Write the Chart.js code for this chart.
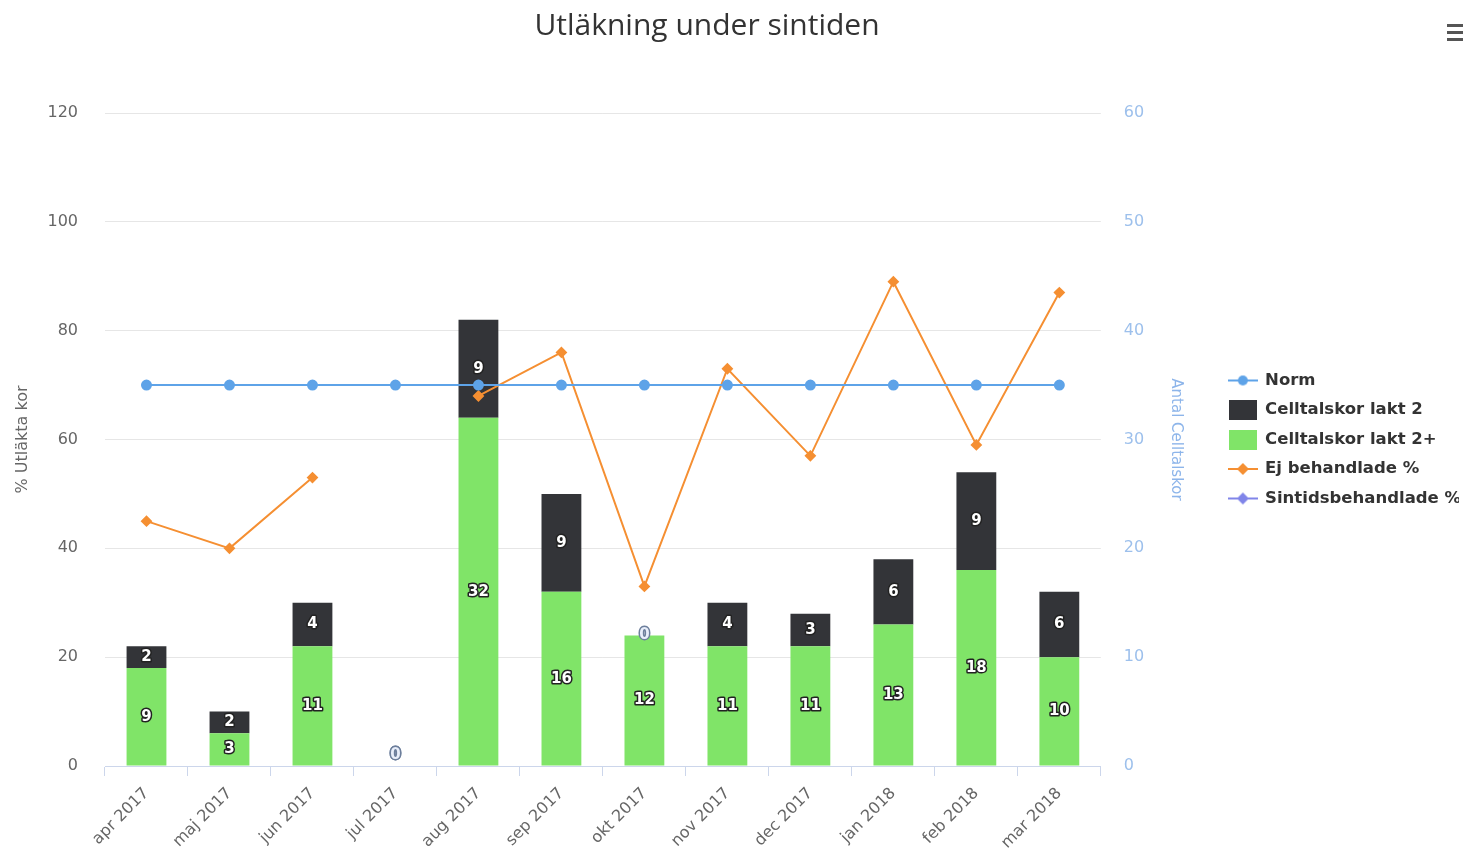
<!DOCTYPE html>
<html lang="sv">
<head>
<meta charset="utf-8">
<title>Utläkning under sintiden</title>
<script src="https://cdn.jsdelivr.net/npm/chart.js@4.4.1/dist/chart.umd.min.js"></script>
<style>
  html, body { margin: 0; padding: 0; background: #fff; }
  #wrap { position: relative; width: 1464px; height: 857px; }
  #menu { position: absolute; left: 1447px; top: 24px; width: 16px; }
  #menu span { display: block; height: 3px; background: #555; margin-bottom: 4px; }
</style>
</head>
<body>
<div id="wrap">
  <canvas id="chart" width="1464" height="857"></canvas>
  <div id="menu"><span></span><span></span><span></span></div>
</div>
<script>
// Chart data
const chartTitle = 'Utläkning under sintiden';
const months = ['apr 2017', 'maj 2017', 'jun 2017', 'jul 2017', 'aug 2017', 'sep 2017',
  'okt 2017', 'nov 2017', 'dec 2017', 'jan 2018', 'feb 2018', 'mar 2018'];
const normValues = [70, 70, 70, 70, 70, 70, 70, 70, 70, 70, 70, 70];
const lakt2Values = [2, 2, 4, 0, 9, 9, 0, 4, 3, 6, 9, 6];
const lakt2PlusValues = [9, 3, 11, 0, 32, 16, 12, 11, 11, 13, 18, 10];
const ejBehandladeValues = [45, 40, 53, null, 68, 76, 33, 73, 57, 89, 59, 87];
const sintidsValues = [null, null, null, null, null, null, null, null, null, null, null, null];
const leftTicks = [0, 20, 40, 60, 80, 100, 120];
const rightTicks = [0, 10, 20, 30, 40, 50, 60];

// Colours
const blue = '#5ea3e8';
const dark = '#333438';
const green = '#80e468';
const orange = '#f58f32';
const purple = '#8085e9';

// Small canvases used as legend symbols
const lineSymbol = (color, marker) => {
  const c = document.createElement('canvas');
  c.width = 30; c.height = 14;
  const ctx = c.getContext('2d');
  ctx.strokeStyle = color;
  ctx.fillStyle = color;
  ctx.lineWidth = 2;
  ctx.beginPath(); ctx.moveTo(0, 7); ctx.lineTo(30, 7); ctx.stroke();
  ctx.beginPath();
  if (marker === 'circle') {
    ctx.arc(15, 7, 5, 0, Math.PI * 2);
  } else {
    ctx.moveTo(15, 1); ctx.lineTo(21, 7); ctx.lineTo(15, 13); ctx.lineTo(9, 7); ctx.closePath();
  }
  ctx.fill();
  return c;
};
const boxSymbol = (color) => {
  const c = document.createElement('canvas');
  c.width = 28; c.height = 20;
  const ctx = c.getContext('2d');
  ctx.fillStyle = color;
  ctx.fillRect(0, 0, 28, 20);
  return c;
};

// Title drawn a bit left of canvas centre, as in the original
const titlePlugin = {
  id: 'chartTitle',
  afterDraw(chart) {
    const ctx = chart.ctx;
    ctx.save();
    ctx.font = '30px "Open Sans"';
    ctx.fillStyle = '#333';
    ctx.textAlign = 'center';
    ctx.textBaseline = 'middle';
    ctx.fillText(chartTitle, 707, 26);
    ctx.restore();
  }
};

// Value labels inside the bar segments
const barLabels = {
  id: 'barLabels',
  afterDatasetsDraw(chart) {
    const ctx = chart.ctx;
    ctx.save();
    ctx.font = 'bold 15px "DejaVu Sans"';
    ctx.textAlign = 'center';
    ctx.textBaseline = 'middle';
    ctx.lineJoin = 'round';
    chart.data.datasets.forEach((ds, i) => {
      if (ds.type !== 'bar') return;
      const meta = chart.getDatasetMeta(i);
      meta.data.forEach((bar, j) => {
        const v = ds.data[j];
        if (v === null || v === undefined) return;
        let y = (bar.y + bar.base) / 2;
        if (v === 0) y = Math.min(y, chart.chartArea.bottom - 11);
        ctx.lineWidth = 3;
        ctx.strokeStyle = v === 0 ? '#6d7f9c' : '#222';
        ctx.strokeText(String(v), bar.x, y);
        ctx.fillStyle = v === 0 ? '#e8eefa' : '#fff';
        ctx.fillText(String(v), bar.x, y);
      });
    });
    ctx.restore();
  }
};

const ctx = document.getElementById('chart').getContext('2d');
new Chart(ctx, {
  data: {
    labels: months,
    datasets: [
      {
        type: 'line', label: 'Norm', data: normValues, yAxisID: 'y', order: 0,
        borderColor: blue, backgroundColor: blue, borderWidth: 2,
        pointStyle: 'circle', pointRadius: 4.5, pointHoverRadius: 6,
        legendSymbol: lineSymbol(blue, 'circle')
      },
      {
        type: 'bar', label: 'Celltalskor lakt 2', data: lakt2Values, yAxisID: 'y2', order: 4,
        stack: 'kor', backgroundColor: dark, categoryPercentage: 0.8, barPercentage: 0.6,
        legendSymbol: boxSymbol(dark)
      },
      {
        type: 'bar', label: 'Celltalskor lakt 2+', data: lakt2PlusValues, yAxisID: 'y2', order: 3,
        stack: 'kor', backgroundColor: green, categoryPercentage: 0.8, barPercentage: 0.6,
        legendSymbol: boxSymbol(green)
      },
      {
        type: 'line', label: 'Ej behandlade %', data: ejBehandladeValues, yAxisID: 'y', order: 1,
        borderColor: orange, backgroundColor: orange, borderWidth: 2, spanGaps: false,
        pointStyle: 'rectRot', pointRadius: 4.5, pointHoverRadius: 6,
        legendSymbol: lineSymbol(orange, 'diamond')
      },
      {
        type: 'line', label: 'Sintidsbehandlade %', data: sintidsValues, yAxisID: 'y', order: 2,
        borderColor: purple, backgroundColor: purple, borderWidth: 2,
        pointStyle: 'rectRot', pointRadius: 4.5,
        legendSymbol: lineSymbol(purple, 'diamond')
      }
    ]
  },
  options: {
    responsive: false,
    animation: false,
    layout: { padding: { top: 113, right: 5, bottom: 0, left: 0 } },
    scales: {
      x: {
        stacked: true,
        offset: true,
        grid: { drawOnChartArea: false, drawTicks: true, tickLength: 10, color: '#ccd6eb', offset: true },
        border: { color: '#ccd6eb' },
        ticks: {
          color: '#666', font: { family: 'DejaVu Sans', size: 16 },
          minRotation: 45, maxRotation: 45, padding: 8, autoSkip: false
        },
        afterFit: (scale) => { scale.height = 91; }
      },
      y: {
        position: 'left', min: 0, max: 120,
        afterBuildTicks: (scale) => { scale.ticks = leftTicks.map(v => ({ value: v })); },
        grid: { color: '#e6e6e6', drawTicks: false },
        border: { display: false },
        ticks: { color: '#666', font: { family: 'DejaVu Sans', size: 16 }, padding: 27 },
        title: {
          display: true, text: '% Utläkta kor', color: '#666',
          font: { family: 'DejaVu Sans', size: 16 }, padding: { top: 13 }
        },
        afterFit: (scale) => { scale.width = 105; }
      },
      y2: {
        position: 'right', min: 0, max: 60, stacked: true,
        afterBuildTicks: (scale) => { scale.ticks = rightTicks.map(v => ({ value: v })); },
        grid: { drawOnChartArea: false, drawTicks: false },
        border: { display: false },
        ticks: { color: '#9dc0ec', font: { family: 'DejaVu Sans', size: 16 }, padding: 23 },
        title: {
          display: true, text: 'Antal Celltalskor', color: '#8db5ea',
          font: { family: 'DejaVu Sans', size: 15 }, padding: { top: 31 }
        },
        afterFit: (scale) => { scale.width = 115; }
      }
    },
    plugins: {
      title: { display: false },
      tooltip: { enabled: false },
      legend: {
        position: 'right',
        align: 'center',
        fullSize: false,
        labels: {
          usePointStyle: true,
          pointStyleWidth: 28,
          padding: 13,
          color: '#333',
          font: { family: 'DejaVu Sans', size: 16.5, weight: 'bold' },
          sort: (a, b) => a.datasetIndex - b.datasetIndex,
          generateLabels: (chart) => chart.data.datasets.map((ds, i) => ({
            text: ds.label,
            datasetIndex: i,
            pointStyle: ds.legendSymbol,
            fillStyle: ds.backgroundColor,
            strokeStyle: ds.backgroundColor,
            lineWidth: 0,
            hidden: false,
            fontColor: '#333'
          }))
        }
      }
    }
  },
  plugins: [barLabels, titlePlugin]
});
</script>
</body>
</html>
